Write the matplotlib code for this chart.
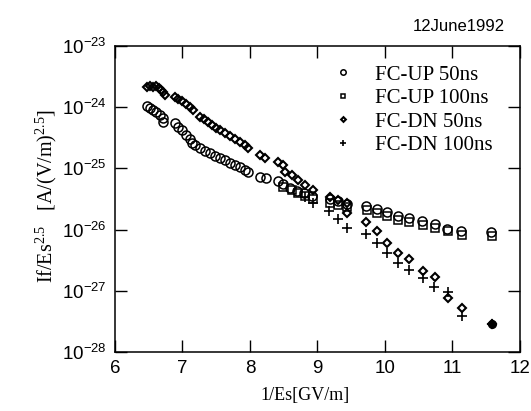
import matplotlib
matplotlib.use("Agg")
import matplotlib.pyplot as plt
from matplotlib.ticker import NullLocator

# FC-UP 50ns (circles)
up50_x = [6.474, 6.519, 6.563, 6.607, 6.667, 6.711, 6.711,
          6.889, 6.933, 6.993, 7.052, 7.111, 7.141,
          7.185, 7.259, 7.333, 7.407, 7.481, 7.556, 7.630, 7.704, 7.778, 7.852, 7.926, 7.970,
          8.148, 8.237, 8.415, 8.489, 8.593, 8.696, 8.800, 8.919,
          9.185, 9.304, 9.437, 9.719, 9.881, 10.030, 10.193, 10.356, 10.548, 10.741,
          10.919, 11.126, 11.570]
up50_y = [1.05e-24, 9.7e-25, 9.0e-25, 8.4e-25, 7.5e-25, 6.7e-25, 5.7e-25,
          5.5e-25, 4.7e-25, 4.2e-25, 3.5e-25, 3.0e-25, 2.6e-25,
          2.4e-25, 2.15e-25, 1.9e-25, 1.8e-25, 1.6e-25, 1.48e-25, 1.37e-25, 1.22e-25, 1.14e-25,
          1.05e-25, 9.4e-26, 8.7e-26,
          7.2e-26, 7.0e-26, 6.2e-26, 5.6e-26, 4.8e-26, 4.3e-26, 4.0e-26, 3.5e-26,
          3.2e-26, 2.9e-26, 2.6e-26, 2.4e-26, 2.2e-26, 1.94e-26, 1.67e-26, 1.55e-26, 1.38e-26,
          1.24e-26, 1.02e-26, 9.5e-27, 9.1e-27]

# FC-UP 100ns (squares)
up100_x = [8.489, 8.622, 8.711, 8.815, 8.933, 9.185, 9.304, 9.437, 9.733, 9.881,
           10.030, 10.193, 10.356, 10.563, 10.741, 10.933, 11.141, 11.585]
up100_y = [5.0e-26, 4.4e-26, 4.0e-26, 3.5e-26, 3.2e-26, 2.7e-26, 2.5e-26, 2.34e-26, 2.1e-26,
           1.87e-26, 1.67e-26, 1.44e-26, 1.33e-26, 1.19e-26, 1.06e-26, 9.5e-27, 8.2e-27, 7.9e-27]

# FC-DN 50ns (diamonds)
dn50_x = [6.474, 6.519, 6.563, 6.607, 6.652, 6.681, 6.711, 6.741,
          6.889, 6.933, 6.993, 7.052, 7.111, 7.156,
          7.259, 7.319, 7.378, 7.437, 7.496, 7.556, 7.630, 7.704, 7.778, 7.852, 7.926, 7.970,
          8.148, 8.222, 8.415, 8.489, 8.519, 8.622, 8.711, 8.815, 8.933,
          9.185, 9.304, 9.437, 9.437, 9.719, 9.881, 10.030, 10.193, 10.356, 10.563,
          10.741, 10.933, 11.141, 11.585]
dn50_y = [2.14e-24, 2.22e-24, 2.14e-24, 2.22e-24, 2.06e-24, 1.91e-24, 1.77e-24, 1.58e-24,
          1.47e-24, 1.36e-24, 1.26e-24, 1.13e-24, 1.01e-24, 9.0e-25,
          6.9e-25, 6.4e-25, 5.7e-25, 5.1e-25, 4.6e-25, 4.2e-25, 3.8e-25, 3.4e-25, 3.0e-25,
          2.7e-25, 2.4e-25, 2.15e-25,
          1.66e-25, 1.48e-25, 1.27e-25, 1.14e-25, 8.7e-26, 7.8e-26, 6.5e-26, 5.4e-26, 4.4e-26,
          3.4e-26, 3.05e-26, 2.7e-26, 1.87e-26, 1.33e-26, 9.5e-27, 6.0e-27, 4.15e-27, 3.3e-27,
          2.1e-27, 1.68e-27, 7.6e-28, 5.2e-28, 2.87e-28]

# FC-DN 100ns (plus)
dn100_x = [8.815, 8.933, 9.170, 9.304, 9.437, 9.719, 9.881, 10.030, 10.193, 10.356,
           10.563, 10.726, 10.933, 11.141, 11.585]
dn100_y = [3.4e-26, 2.7e-26, 2.0e-26, 1.49e-26, 1.06e-26, 8.5e-27, 6.0e-27, 4.15e-27,
           2.85e-27, 2.19e-27, 1.62e-27, 1.15e-27, 9.55e-28, 3.87e-28, 2.87e-28]

labels = ["FC-UP 50ns", "FC-UP 100ns", "FC-DN 50ns", "FC-DN 100ns"]
x_ticks = [6, 7, 8, 9, 10, 11, 12]
y_ticks = [1e-28, 1e-27, 1e-26, 1e-25, 1e-24, 1e-23]

plt.rcParams['font.family'] = ['Liberation Sans', 'DejaVu Sans']

fig = plt.figure(figsize=(5.31, 4.11), dpi=100)
ax = fig.add_axes([0.2166, 0.1436, 0.7624, 0.7445])

ax.plot(up50_x, up50_y, 'o', ms=6.5, mfc='none', mec='black', mew=1.1, label=labels[0])
ax.plot(up100_x, up100_y, 's', ms=5.5, mfc='none', mec='black', mew=1.1, label=labels[1])
ax.plot(dn50_x, dn50_y, 'D', ms=4, mfc='none', mec='black', mew=1.5, label=labels[2])
ax.plot(dn100_x, dn100_y, '+', ms=7, mec='black', mew=1.2, label=labels[3])
ax.plot([dn50_x[-1]], [dn50_y[-1]], 'o', ms=5.5, color='black')

ax.set_yscale('log')
ax.set_xlim(6, 12)
ax.set_ylim(1e-28, 1e-23)
ax.set_xticks(x_ticks)
ax.set_yticks(y_ticks)
ax.yaxis.set_minor_locator(NullLocator())
ax.tick_params(which='major', direction='in', length=8.5, width=1.0,
               top=True, right=True, labelsize=13.5, pad=6)
for s in ax.spines.values():
    s.set_linewidth(1.1)

fig.text(305 / 531, 1 - 395 / 411, '1/Es[GV/m]', family='Liberation Serif',
         fontsize=13, ha='center', va='center')
fig.text(46 / 531, 1 - 196 / 411,
         r'If/Es$^{\mathdefault{2.5}}$   [A/(V/m)$^{\mathdefault{2.5}}$]',
         family='Liberation Serif', fontsize=14.5, rotation=90,
         ha='center', va='center')

ax.legend(loc='upper left', bbox_to_anchor=(0.511, 0.965), borderaxespad=0,
          frameon=False, prop={'family': 'Liberation Serif', 'size': 15},
          markerscale=0.6, labelspacing=0.19, handlelength=1.2, handletextpad=0.95)

fig.text(0.951, 0.935, '12June1992', ha='right', va='center', fontsize=12)

fig.savefig('out.png', dpi=100)
